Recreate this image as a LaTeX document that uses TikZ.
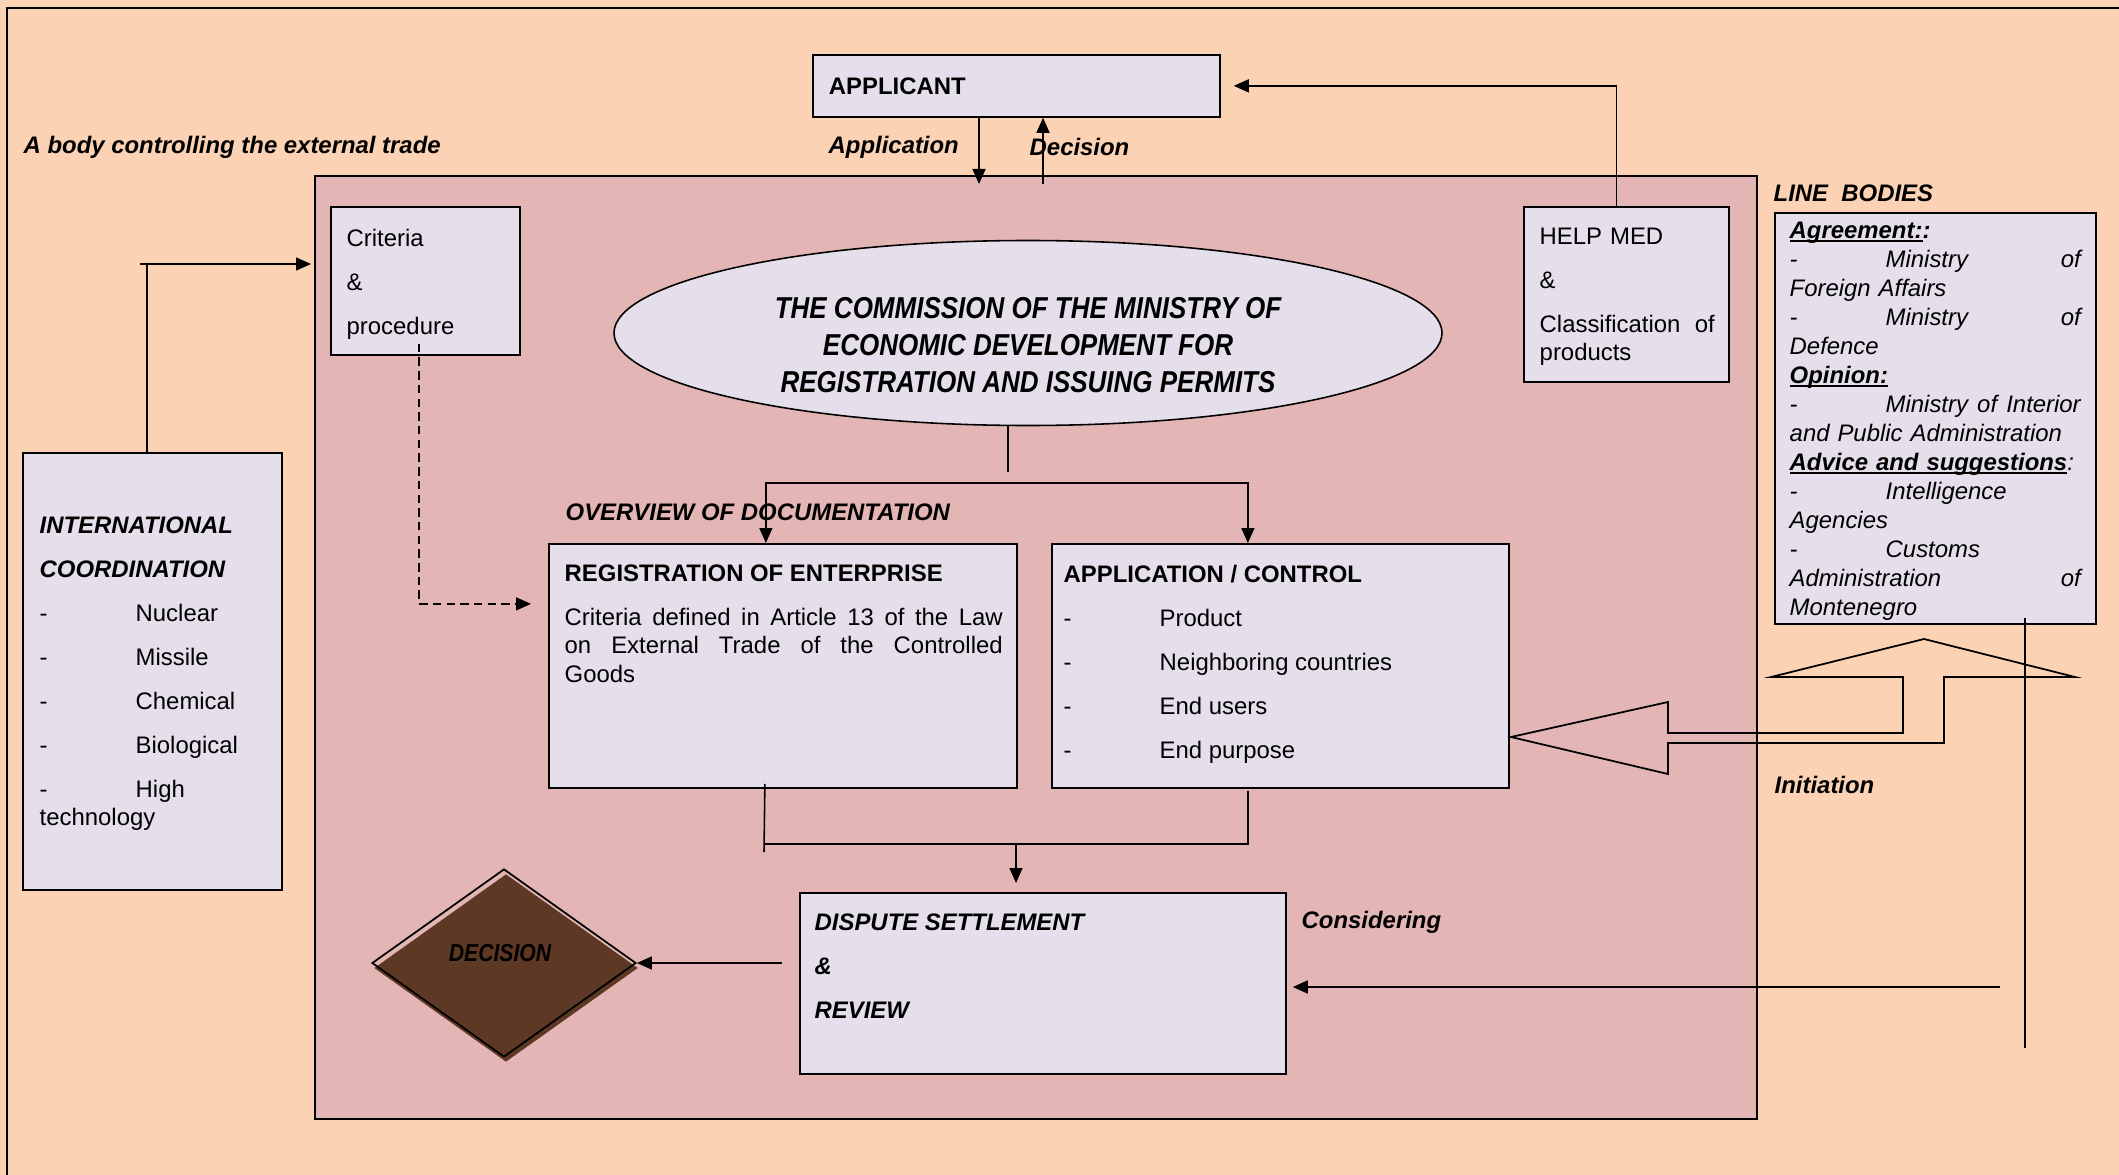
\documentclass[tikz,border=0pt]{standalone}
\usepackage{fontspec}
\setmainfont{Liberation Sans}
\newfontfamily\condfont{Liberation Sans}[FakeStretch=0.86]
\usetikzlibrary{arrows.meta,shapes.geometric,shadows}

\definecolor{peach}{RGB}{251,211,180}
\definecolor{rosebg}{RGB}{228,181,181}
\definecolor{boxfill}{RGB}{228,223,235}
\definecolor{decbrown}{RGB}{93,56,36}

\newcommand{\dashitem}{\makebox[0.96cm][l]{-}}
\newsavebox{\ulbox}
\newcommand{\ulbf}[1]{\leavevmode\sbox{\ulbox}{\bfseries #1}\rlap{\rule[-1pt]{\wd\ulbox}{0.5pt}}\usebox{\ulbox}}

\begin{document}
\begin{tikzpicture}[
    % GLOBAL CFG
    font=\fontsize{6.8}{8}\selectfont,
    >={Triangle[length=1.5mm,width=1.3mm]},
    % Styles
    box/.style={% lavender boxes
        rectangle,
        draw,
        line width=0.5pt,
        fill=boxfill,
        inner sep=0pt,
        anchor=north west,
        },
    txt/.style={% text set inside the boxes
        inner sep=0pt,
        anchor=north west,
        align=left,
        },
    mylabel/.style={% free labels, bold italic
        inner sep=0pt,
        anchor=west,
        font=\fontsize{6.8}{8}\selectfont\bfseries\itshape,
        },
    link/.style={% connectors
        line width=0.45pt,
        },
    ]

% Background and frames
    \fill[peach] (0,0) rectangle (21.19,-11.75);
    \useasboundingbox (0,0) rectangle (21.19,-11.75);
    \draw[line width=0.6pt] (21.19,-0.08) -- (0.07,-0.08) -- (0.07,-11.75);
    \draw[fill=rosebg, line width=0.35pt] (3.15,-1.76) rectangle (17.57,-11.19);

% Boxes and their texts
    \node[box, minimum width=4.07cm, minimum height=0.62cm, text width=3.75cm,
        inner xsep=1.6mm, align=left, font=\fontsize{6.8}{8}\selectfont\bfseries]
        (applicant) at (8.12,-0.54) {APPLICANT};

    \node[box, minimum width=1.89cm, minimum height=1.48cm] (criteria) at (3.30,-2.06) {};
    \node[txt] (crittext) at (3.46,-2.285) {Criteria\\[4.5pt]\&\\[4.5pt]procedure};

    \node[box, minimum width=2.05cm, minimum height=1.75cm] (helpmed) at (15.23,-2.06) {};
    \node[txt, text width=1.75cm] (helptext) at (15.39,-2.275)
        {HELP MED\\[4.5pt]\&\\[4.5pt]Classification\hfill of\\products};

    \node[box, minimum width=3.21cm, minimum height=4.11cm] (linebodies) at (17.74,-2.12) {};
    \node[txt, text width=2.91cm, font=\fontsize{6.8}{8.25}\selectfont\itshape]
        (linetext) at (17.89,-2.215) {%
        \ulbf{Agreement:}\textbf{:}\\
        \dashitem Ministry\hfill of\\
        Foreign Affairs\\
        \dashitem Ministry\hfill of\\
        Defence\\
        \ulbf{Opinion:}\\
        \dashitem Ministry\hfill of\hfill Interior\\
        and Public Administration\\
        \ulbf{Advice and suggestions}:\\
        \dashitem Intelligence\\
        Agencies\\
        \dashitem Customs\\
        Administration\hfill of\\
        Montenegro};

    \node[box, minimum width=2.59cm, minimum height=4.37cm] (intl) at (0.22,-4.52) {};
    \node[txt] (intltext) at (0.39,-5.165) {%
        {\bfseries\itshape INTERNATIONAL}\\[4.4pt]
        {\bfseries\itshape COORDINATION}\\[4.5pt]
        \dashitem Nuclear\\[4.5pt]
        \dashitem Missile\\[4.5pt]
        \dashitem Chemical\\[4.5pt]
        \dashitem Biological\\[4.5pt]
        \dashitem High\\
        technology};

    % the commission
    \node[ellipse, draw, line width=0.45pt, fill=boxfill,
        minimum width=8.28cm, minimum height=1.85cm] (comm) at (10.28,-3.33) {};
    \node[align=center, font=\condfont\fontsize{8.6}{10.5}\selectfont\bfseries\itshape]
        (commtext) at (10.28,-3.45)
        {THE COMMISSION OF THE MINISTRY OF\\ECONOMIC DEVELOPMENT FOR\\REGISTRATION AND ISSUING PERMITS};

    \node[mylabel] (overview) at (5.65,-5.12) {OVERVIEW OF DOCUMENTATION};

    \node[box, minimum width=4.68cm, minimum height=2.44cm] (reg) at (5.48,-5.43) {};
    \node[txt, text width=4.38cm, align=justify] (regtext) at (5.64,-5.645)
        {{\bfseries REGISTRATION OF ENTERPRISE}\\[4.5pt]Criteria defined in Article 13 of the Law\linebreak
        on External Trade of the Controlled\linebreak Goods};

    \node[box, minimum width=4.57cm, minimum height=2.44cm] (appctl) at (10.51,-5.43) {};
    \node[txt] (apptext) at (10.63,-5.645) {%
        {\bfseries APPLICATION / CONTROL}\\[4.5pt]
        \dashitem Product\\[4.5pt]
        \dashitem Neighboring countries\\[4.5pt]
        \dashitem End users\\[4.5pt]
        \dashitem End purpose};

    \node[box, minimum width=4.86cm, minimum height=1.81cm] (dispute) at (7.99,-8.92) {};
    \node[txt, font=\fontsize{6.8}{8}\selectfont\bfseries\itshape] (disptext) at (8.14,-9.135)
        {DISPUTE SETTLEMENT\\[4.5pt]\&\\[4.5pt]REVIEW};

    \node[diamond, draw, line width=0.5pt, inner sep=0pt,
        minimum width=2.64cm, minimum height=1.88cm,
        drop shadow={fill=decbrown, opacity=1, shadow xshift=0.2mm, shadow yshift=-0.5mm}]
        (decision) at (5.04,-9.63) {};
    \node[mylabel, anchor=center, font=\condfont\fontsize{7}{8}\selectfont\bfseries\itshape]
        (dectext) at (5.00,-9.53) {DECISION};

% Free labels
    \node[mylabel] (bodylbl) at (0.23,-1.47) {A body controlling the external trade};
    \node[mylabel] (applbl) at (8.28,-1.47) {Application};
    \node[mylabel] (declbl) at (10.29,-1.47) {Decision};
    \node[mylabel] (linelbl) at (17.73,-1.93) {LINE~~BODIES};
    \node[mylabel] (conslbl) at (13.01,-9.22) {Considering};
    \node[mylabel] (initlbl) at (17.74,-7.85) {Initiation};

% Connectors
    \coordinate (appin) at (9.79,-1.84);
    \coordinate (decout) at (10.43,-1.84);
    \draw[link, ->] (applicant.south -| appin) -- (appin);
    \draw[link, ->] (decout) -- (applicant.south -| decout);

    \draw[link, ->, shorten >=1.3mm] ([xshift=-1mm]helpmed.north) |- (applicant.east);

    \coordinate (intlbend) at (1.47,-2.64);
    \draw[link] (intl.north -| intlbend) -- (intlbend);
    \draw[link, ->, shorten >=1.9mm] ([xshift=-0.7mm]intlbend) -- (criteria.west |- intlbend);

    \draw[link, dash pattern=on 2.4pt off 1.5pt, ->]
        ([xshift=-0.65mm,yshift=1.2mm]criteria.south) |- ([xshift=-1.7mm,yshift=6.2mm]reg.west);

    \coordinate (fork) at (10.08,-4.83);
    \draw[link] (comm.south -| fork) -- ([yshift=1.1mm]fork);
    \draw[link, <->] ([xshift=-1.7mm]reg.north) |- (fork) -| ([xshift=-3.25mm]appctl.north);

    \coordinate (join) at (10.16,-8.44);
    \coordinate (joinleft) at (7.64,-8.52);
    \draw[link] ([xshift=-1.8mm,yshift=0.5mm]reg.south) -- (joinleft);
    \draw[link] ([xshift=-3.25mm,yshift=-0.2mm]appctl.south) |- (joinleft |- join);
    \draw[link, ->, shorten >=0.9mm] (join) -- (join |- dispute.north);

    \draw[link, ->, shorten <=1.7mm] (dispute.west |- decision.east) -- (decision.east);

    \coordinate (consider) at (20.00,-9.87);
    \draw[link, ->, shorten >=0.6mm] (consider) -- (dispute.east |- consider);

    \coordinate (linefoot) at (20.25,-10.48);
    \draw[link, shorten <=-0.7mm] (linebodies.south -| linefoot) -- (linefoot);

    % hollow bent arrow of the initiation
    \draw[line width=0.5pt] (15.11,-7.37) -- (16.68,-7.02) -- (16.68,-7.33) -- (19.03,-7.33)
        -- (19.03,-6.77) -- (17.71,-6.77) -- (19.24,-6.39) -- (20.75,-6.77) -- (19.44,-6.77)
        -- (19.44,-7.43) -- (16.68,-7.43) -- (16.68,-7.74) -- cycle;
\end{tikzpicture}
\end{document}
